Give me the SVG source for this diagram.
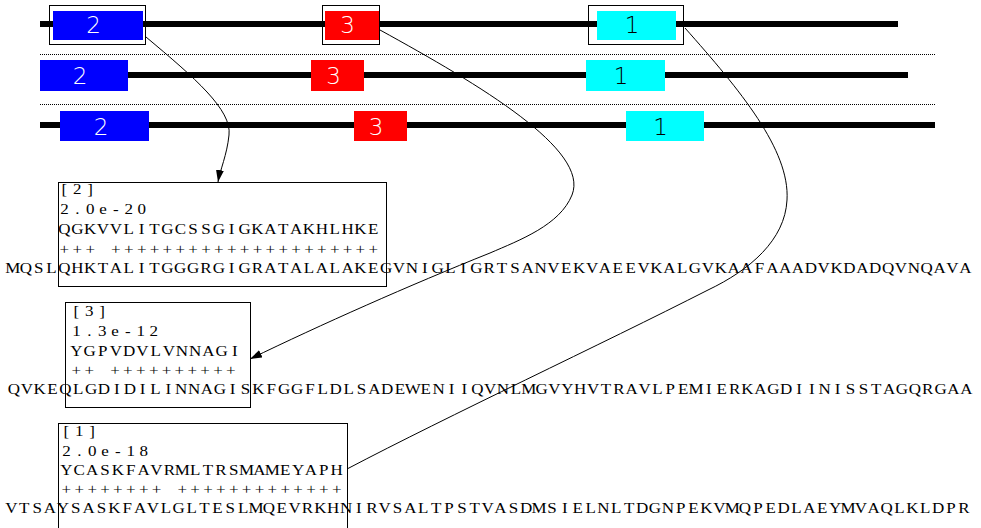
<svg xmlns="http://www.w3.org/2000/svg" width="981" height="528" viewBox="0 0 981 528">
<style>
.bar{stroke:#000;stroke-width:6;fill:none}
.dot{stroke:#000;stroke-width:1;stroke-dasharray:1 1;fill:none}
.frame{fill:none;stroke:#000;stroke-width:1}
.blue{fill:#0000ff}
.red{fill:#ff0000}
.cyan{fill:#00ffff}
.lbl{font-family:"DejaVu Sans","Liberation Sans",sans-serif;font-weight:200;font-size:23px;text-anchor:middle}
.w{fill:#fff}
.k{fill:#000}
.mono{font-family:"Liberation Serif","DejaVu Serif",serif;font-size:17px;fill:#000;text-anchor:middle}
.hit{fill:none;stroke:#000;stroke-width:1}
.conn{fill:none;stroke:#000;stroke-width:1}
</style>
<defs>
<marker id="ah" viewBox="0 0 12 8" refX="12" refY="4" markerWidth="12" markerHeight="8" orient="auto" markerUnits="userSpaceOnUse">
<path d="M0,0 L12,4 L0,8 z" fill="#000"/>
</marker>
</defs>
<rect width="981" height="528" fill="#fff"/>

<g id="track1">
<line class="bar" x1="40" y1="24" x2="898" y2="24"/>
<g id="t1-d2"><rect class="frame" x="49.5" y="5.5" width="96" height="39"/><rect class="blue" x="53" y="11" width="90" height="29"/><text class="lbl w" x="93.5" y="33">2</text></g>
<g id="t1-d3"><rect class="frame" x="322.5" y="5.5" width="57" height="39"/><rect class="red" x="325" y="11" width="54" height="29"/><text class="lbl w" x="347.5" y="33">3</text></g>
<g id="t1-d1"><rect class="frame" x="588.5" y="5.5" width="95" height="39"/><rect class="cyan" x="597" y="11" width="79" height="29"/><text class="lbl k" x="632" y="33">1</text></g>
</g>
<line class="dot" x1="40" y1="54.5" x2="935" y2="54.5"/>
<g id="track2">
<line class="bar" x1="40" y1="75" x2="908" y2="75"/>
<g id="t2-d2"><rect class="blue" x="40" y="60" width="88" height="31"/><text class="lbl w" x="80" y="84">2</text></g>
<g id="t2-d3"><rect class="red" x="311" y="60" width="53" height="31"/><text class="lbl w" x="333.5" y="84">3</text></g>
<g id="t2-d1"><rect class="cyan" x="586" y="60" width="79" height="31"/><text class="lbl k" x="621" y="84">1</text></g>
</g>
<line class="dot" x1="40" y1="104.5" x2="935" y2="104.5"/>
<g id="track3">
<line class="bar" x1="40" y1="125" x2="935" y2="125"/>
<g id="t3-d2"><rect class="blue" x="60" y="111" width="89" height="30"/><text class="lbl w" x="101" y="134.5">2</text></g>
<g id="t3-d3"><rect class="red" x="354" y="111" width="53" height="30"/><text class="lbl w" x="376" y="134.5">3</text></g>
<g id="t3-d1"><rect class="cyan" x="626" y="111" width="78" height="30"/><text class="lbl k" x="660.5" y="134.5">1</text></g>
</g>

<g id="hit2">
<text class="mono" transform="translate(58,194) scale(1,0.88)" y="0" x="6.4 19.3 32.2">[2]</text>
<text class="mono" transform="translate(58,214) scale(1,0.88)" y="0" x="6.4 19.3 32.2 45 57.9 70.8 83.7">2.0e-20</text>
<text class="mono" transform="translate(58,234) scale(1,0.88)" y="0" x="6.4 19.3 32.2 45 57.9 70.8 83.7 96.5 109.4 122.3 135.1 148 160.9 173.7 186.6 199.5 212.4 225.2 238.1 251 263.8 276.7 289.6 302.4 315.3">QGKVVLITGCSSGIGKATAKHLHKE</text>
<text class="mono" transform="translate(58,254) scale(1,0.88)" y="0" x="6.4 19.3 32.2 45 57.9 70.8 83.7 96.5 109.4 122.3 135.1 148 160.9 173.7 186.6 199.5 212.4 225.2 238.1 251 263.8 276.7 289.6 302.4 315.3">+++ +++++++++++++++++++++</text>
<text class="mono" transform="translate(6.5,273) scale(1,0.88)" y="0" x="6.4 19.3 32.2 45 57.9 70.8 83.7 96.5 109.4 122.3 135.1 148 160.9 173.7 186.6 199.5 212.4 225.2 238.1 251 263.8 276.7 289.6 302.4 315.3 328.2 341.1 353.9 366.8 379.7 392.5 405.4 418.3 431.1 444 456.9 469.8 482.6 495.5 508.4 521.2 534.1 547 559.8 572.7 585.6 598.5 611.3 624.2 637.1 649.9 662.8 675.7 688.5 701.4 714.3 727.2 740 752.9 765.8 778.6 791.5 804.4 817.2 830.1 843 855.9 868.7 881.6 894.5 907.3 920.2 933.1 945.9 958.8">MQSLQHKTALITGGGRGIGRATALALAKEGVNIGLIGRTSANVEKVAEEVKALGVKAAFAAADVKDADQVNQAVA</text>
<rect class="hit" x="58.5" y="182.5" width="328" height="104"/>
</g>

<g id="hit3">
<text class="mono" transform="translate(70,316) scale(1,0.88)" y="0" x="6.4 19.3 32.2">[3]</text>
<text class="mono" transform="translate(70,336) scale(1,0.88)" y="0" x="6.4 19.3 32.2 45 57.9 70.8 83.7">1.3e-12</text>
<text class="mono" transform="translate(70,356) scale(1,0.88)" y="0" x="6.4 19.6 32.8 46 59.2 72.4 85.6 98.8 112 125.2 138.4 151.6 164.8">YGPVDVLVNNAGI</text>
<text class="mono" transform="translate(70,375) scale(1,0.88)" y="0" x="6.4 19.3 32.2 45 57.9 70.8 83.7 96.5 109.4 122.3 135.1 148 160.9">++ ++++++++++</text>
<text class="mono" transform="translate(7.5,394) scale(1,0.88)" y="0" x="6.4 19.3 32.2 45 57.9 70.8 83.7 96.5 109.4 122.3 135.1 148 160.9 173.7 186.6 199.5 212.4 225.2 238.1 251 263.8 276.7 289.6 302.4 315.3 328.2 341.1 353.9 366.8 379.7 392.5 405.4 418.3 431.1 444 456.9 469.8 482.6 495.5 508.4 521.2 534.1 547 559.8 572.7 585.6 598.5 611.3 624.2 637.1 649.9 662.8 675.7 688.5 701.4 714.3 727.2 740 752.9 765.8 778.6 791.5 804.4 817.2 830.1 843 855.9 868.7 881.6 894.5 907.3 920.2 933.1 945.9 958.8">QVKEQLGDIDILINNAGISKFGGFLDLSADEWENIIQVNLMGVYHVTRAVLPEMIERKAGDIINISSTAGQRGAA</text>
<rect class="hit" x="65.5" y="302.5" width="185" height="105"/>
</g>

<g id="hit1">
<text class="mono" transform="translate(60,436) scale(1,0.88)" y="0" x="6.4 19.3 32.2">[1]</text>
<text class="mono" transform="translate(60,456) scale(1,0.88)" y="0" x="6.4 19.3 32.2 45 57.9 70.8 83.7">2.0e-18</text>
<text class="mono" transform="translate(60,475) scale(1,0.88)" y="0" x="6.4 19.3 32.2 45 57.9 70.8 83.7 96.5 109.4 122.3 135.1 148 160.9 173.7 186.6 199.5 212.4 225.2 238.1 251 263.8 276.7">YCASKFAVRMLTRSMAMEYAPH</text>
<text class="mono" transform="translate(60,494) scale(1,0.88)" y="0" x="6.4 19.3 32.2 45 57.9 70.8 83.7 96.5 109.4 122.3 135.1 148 160.9 173.7 186.6 199.5 212.4 225.2 238.1 251 263.8 276.7">++++++++ +++++++++++++</text>
<text class="mono" transform="translate(5,513) scale(1,0.88)" y="0" x="6.4 19.3 32.2 45 57.9 70.8 83.7 96.5 109.4 122.3 135.1 148 160.9 173.7 186.6 199.5 212.4 225.2 238.1 251 263.8 276.7 289.6 302.4 315.3 328.2 341.1 353.9 366.8 379.7 392.5 405.4 418.3 431.1 444 456.9 469.8 482.6 495.5 508.4 521.2 534.1 547 559.8 572.7 585.6 598.5 611.3 624.2 637.1 649.9 662.8 675.7 688.5 701.4 714.3 727.2 740 752.9 765.8 778.6 791.5 804.4 817.2 830.1 843 855.9 868.7 881.6 894.5 907.3 920.2 933.1 945.9 958.8">VTSAYSASKFAVLGLTESLMQEVRKHNIRVSALTPSTVASDMSIELNLTDGNPEKVMQPEDLAEYMVAQLKLDPR</text>
<rect class="hit" x="58.5" y="423.5" width="289" height="112"/>
</g>

<g id="connectors">
<path class="conn" marker-end="url(#ah)" d="M146,37 C195,78 232,110 229,135 C227,155 220,170 218,182"/>
<path class="conn" marker-end="url(#ah)" d="M380,30 C480,85 590,150 572,195 C560,225 520,240 490,253 C410,285 320,325 250,359"/>
<path class="conn" d="M685,28 C740,90 790,150 787,200 C785,240 750,270 708,290 C600,345 450,415 347,469"/>
</g>
</svg>
